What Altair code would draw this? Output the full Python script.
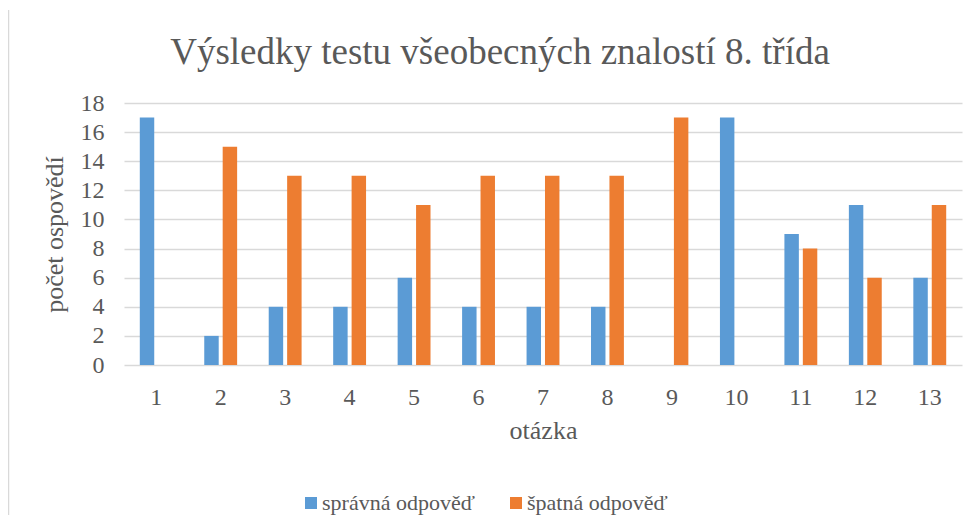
import altair as alt
import pandas as pd

questions = [str(i) for i in range(1, 14)]
correct = [17, 2, 4, 4, 6, 4, 4, 4, 0, 17, 9, 11, 6]
wrong = [0, 15, 13, 13, 11, 13, 13, 13, 17, 0, 8, 6, 11]
series = ["správná odpověď", "špatná odpověď"]
colors = ["#5B9BD5", "#ED7D31"]

rows = []
for q, c, w in zip(questions, correct, wrong):
    rows.append({"otazka": q, "serie": series[0], "pocet": c})
    rows.append({"otazka": q, "serie": series[1], "pocet": w})
df = pd.DataFrame(rows)

FONT = "Liberation Serif"
TXT = "#595959"
GRID = "#d9d9d9"

bars = alt.Chart(df).mark_bar().encode(
    x=alt.X("otazka:N", sort=questions,
            scale=alt.Scale(paddingInner=0.49, paddingOuter=0.245),
            axis=alt.Axis(title="otázka", labelAngle=0, ticks=False, tickSize=0,
                          domain=False, labelPadding=20, titlePadding=8,
                          labelFontSize=24, titleFontSize=26)),
    xOffset=alt.XOffset("serie:N", sort=series,
                        scale=alt.Scale(paddingInner=0.216, paddingOuter=0)),
    y=alt.Y("pocet:Q", scale=alt.Scale(domain=[0, 18], nice=False),
            axis=alt.Axis(title="počet ospovědí", values=list(range(0, 19, 2)),
                          ticks=False, tickSize=0, domain=False, labelPadding=20,
                          titleX=-70, titleY=131, titleAngle=270,
                          titleBaseline="middle", titleAlign="center",
                          labelFontSize=24, titleFontSize=26)),
    color=alt.Color("serie:N", sort=series,
                    scale=alt.Scale(domain=series, range=colors),
                    legend=alt.Legend(title=None, orient="none", direction="horizontal",
                                      legendX=176, legendY=389, symbolType="square",
                                      symbolSize=144, symbolStrokeWidth=0,
                                      columnPadding=30, labelOffset=0)),
)

border = alt.Chart(pd.DataFrame({"a": [0]})).mark_rule(color=GRID, strokeWidth=1.5).encode(
    x=alt.value(-115.5), y=alt.value(-93), y2=alt.value(500)
)

chart = alt.layer(border, bars).properties(
    width=838, height=262,
    autosize=alt.AutoSizeParams(type="none"),
    padding={"left": 116, "top": 95, "right": 6, "bottom": 150},
    title=alt.TitleParams("Výsledky testu všeobecných znalostí 8. třída",
                          fontSize=37, font=FONT, fontWeight="normal", color=TXT,
                          dx=-43, offset=0, dy=63),
).configure_view(stroke=None).configure_axis(
    labelFont=FONT, titleFont=FONT,
    labelColor=TXT, titleColor=TXT, titleFontWeight="normal",
    gridColor=GRID, gridWidth=1.3,
).configure_axisX(grid=False).configure_legend(
    labelFont=FONT, labelFontSize=22, labelColor=TXT
)

chart.save("out.html", embed_options={"renderer": "svg", "actions": False})
